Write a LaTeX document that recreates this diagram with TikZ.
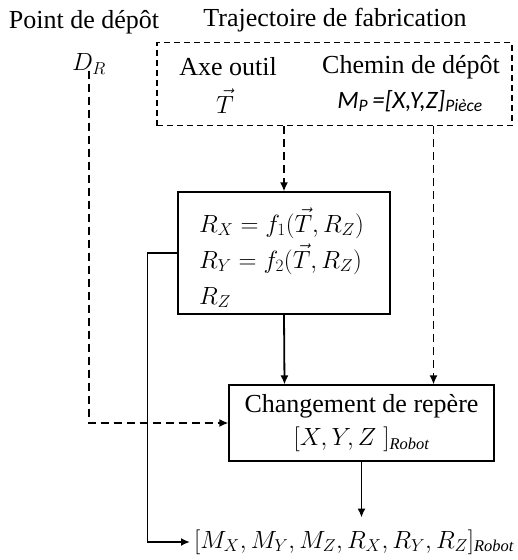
\documentclass[tikz,border=0pt]{standalone}
\usepackage{fontspec}
\setmainfont{Liberation Serif}
\newfontfamily\carlito{Carlito}
\usetikzlibrary{arrows.meta,calc}
\begin{document}
\begin{tikzpicture}[x=1pt,y=-1pt,
  every node/.style={font=\fontsize{26}{34}\selectfont, inner sep=0pt},
  mathtxt/.style={font=\fontsize{23.5}{36}\selectfont},
  boxstyle/.style={draw, line width=1.1pt, inner sep=0pt},
  dashline/.style={line width=1.8pt, dash pattern=on 8pt off 5pt},
  solidline/.style={line width=1.8pt},
  arr/.style={-{Latex[length=9pt,width=8pt]}}]
\useasboundingbox (0,0) rectangle (518,560);
% titles
\node (pd) at (84,22) {Point de dépôt};
\node (tf) at (335,20) {Trajectoire de fabrication};
\node[mathtxt] (dr) at (89,64) {$D_R$};
% dashed trajectory box
\node[boxstyle, dash pattern=on 6pt off 4pt, line width=1.3pt, minimum width=355pt, minimum height=83pt] (tb) at (334.5,84) {};
\node (ax) at (228,67) {Axe outil};
\node[mathtxt] (tv) at (225,101) {$\vec{T}$};
\node (ch) at (411,67) {Chemin de dépôt};
\node[font=\fontsize{25}{30}\selectfont] (mp) at (410,101) {\carlito\itshape M\textsubscript{P}\,=[X,Y,Z]\textsubscript{Pièce}};
% R box
\node[boxstyle, minimum width=212pt, minimum height=122pt] (rb) at (284,253) {};
\node[mathtxt, align=left, anchor=west] (rt) at (199,258) {$R_X = f_1(\vec{T},R_Z)$\\$R_Y = f_2(\vec{T},R_Z)$\\$R_Z$};
% change box
\node[boxstyle, minimum width=265pt, minimum height=76pt, align=center] (cb) at (361.5,423)
  {Changement de repère\\[-1pt]{\fontsize{23.5}{30}\selectfont$[X,Y,Z\;]_{\mathit{Robot}}$}};
% output
\node[mathtxt, anchor=west] (out) at (194,542) {$[M_X,M_Y,M_Z,R_X,R_Y,R_Z]_{\mathit{Robot}}$};
\coordinate (c1) at ($(cb.north)+(-77,0)$);
\coordinate (c2) at ($(cb.north)+(72,0)$);
\coordinate (c3) at ($(cb.south)+(0,56)$);
% connectors
\draw[dashline, arr] ([yshift=4pt]dr.south) |- (cb.west);
\draw[dashline, arr] (tb.south -| rb.north) -- (rb.north);
\draw[dashline, arr] (c2 |- tb.south) -- (c2);
\draw[solidline, arr] (rb.south) -- (c1);
\draw[solidline, arr] (rb.west) -- ++(-30,0) |- ([xshift=-4pt]out.west);
\draw[solidline, arr] (cb.south) -- (c3);
\end{tikzpicture}
\end{document}
